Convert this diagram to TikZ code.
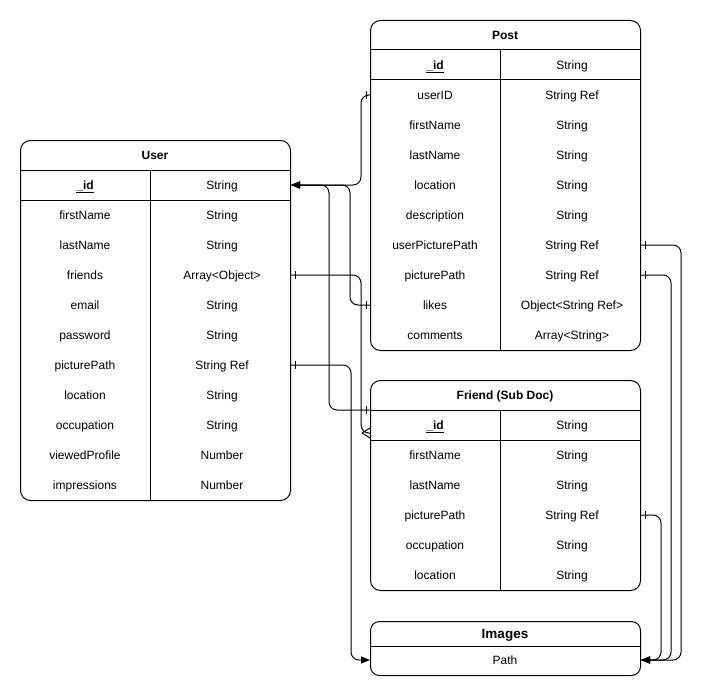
\documentclass[tikz,border=0pt]{standalone}
\usepackage{fontspec}
\setmainfont{Liberation Sans}
\usetikzlibrary{arrows.meta,calc}
\begin{document}
\begin{tikzpicture}[x=1bp,y=-1bp,
  tbl/.style={draw, line width=1bp, rounded corners=10bp, anchor=north west, minimum width=270bp, inner sep=0pt},
  cell/.style={font=\fontsize{12bp}{14bp}\selectfont, inner sep=0pt, text height=9.6bp, text depth=1.4bp},
  ttl/.style={font=\fontsize{12bp}{14bp}\selectfont\bfseries, minimum height=30bp, inner sep=0pt, text height=9.6bp, text depth=1.4bp},
  divline/.style={line width=1bp},
  conn/.style={line width=1bp, rounded corners=8bp},
  tipend/.style={-{Triangle[length=9bp,width=7bp]}},
  onebar/.style={line width=1bp}
]
\useasboundingbox (0,0) rectangle (710,700);

% ---------- User ----------
\node[tbl, minimum height=360bp] (user) at (20,140) {};
\node[ttl] (utitle) at (155,155) {User};
\coordinate (uhead) at (155,170);
\draw[divline] (user.west |- uhead) -- (user.east |- uhead);
\draw[divline] (20,200) -- (290,200);
\draw[divline] (150,170) -- (150,500);
\node[cell] (u1) at (85,185) {\underline{\textbf{\_id}}};
\node[cell] (ut1) at (222,185) {String};
\foreach \a/\b [count=\i from 2] in {firstName/String, lastName/String, friends/Array<Object>, email/String, password/String, picturePath/String Ref, location/String, occupation/String, viewedProfile/Number, impressions/Number} {
  \node[cell] (u\i) at (85,{185+30*(\i-1)}) {\a};
  \node[cell] (ut\i) at (222,{185+30*(\i-1)}) {\b};
}

% ---------- Post ----------
\node[tbl, minimum height=330bp] (post) at (370,20) {};
\node[ttl] (ptitle) at (505,35) {Post};
\coordinate (phead) at (505,50);
\draw[divline] (post.west |- phead) -- (post.east |- phead);
\draw[divline] (370,80) -- (640,80);
\draw[divline] (500,50) -- (500,350);
\node[cell] (p1) at (435,65) {\underline{\textbf{\_id}}};
\node[cell] (pt1) at (572,65) {String};
\foreach \a/\b [count=\i from 2] in {userID/String Ref, firstName/String, lastName/String, location/String, description/String, userPicturePath/String Ref, picturePath/String Ref, likes/Object<String Ref>, comments/Array<String>} {
  \node[cell] (p\i) at (435,{65+30*(\i-1)}) {\a};
  \node[cell] (pt\i) at (572,{65+30*(\i-1)}) {\b};
}

% ---------- Friend ----------
\node[tbl, minimum height=210bp] (friend) at (370,380) {};
\node[ttl] (ftitle) at (505,395) {Friend (Sub Doc)};
\coordinate (fhead) at (505,410);
\draw[divline] (friend.west |- fhead) -- (friend.east |- fhead);
\draw[divline] (370,440) -- (640,440);
\draw[divline] (500,410) -- (500,590);
\node[cell] (f1) at (435,425) {\underline{\textbf{\_id}}};
\node[cell] (ft1) at (572,425) {String};
\foreach \a/\b [count=\i from 2] in {firstName/String, lastName/String, picturePath/String Ref, occupation/String, location/String} {
  \node[cell] (f\i) at (435,{425+30*(\i-1)}) {\a};
  \node[cell] (ft\i) at (572,{425+30*(\i-1)}) {\b};
}

% ---------- Images ----------
\node[tbl, rounded corners=9bp, minimum height=54bp] (images) at (370,621) {};
\node[font=\fontsize{13.5bp}{16bp}\selectfont\bfseries, inner sep=0pt, text height=10.8bp, text depth=1.6bp] (ititle) at (505,634) {Images};
\draw[divline] (370,646) -- (640,646);
\node[cell] (ipath) at (505,660) {Path};

% ---------- Connectors ----------
% Post.userID -> User._id
\draw[conn, tipend] (post.west |- p2) -- ++(-9,0) |- (user.east |- u1);
\draw[onebar] ($(post.west |- p2)+(-4,-4)$) -- ++(0,8);
% Post.likes -> User._id
\draw[conn, tipend] (post.west |- p9) -- ++(-20,0) |- (user.east |- u1);
\draw[onebar] ($(post.west |- p9)+(-4,-4)$) -- ++(0,8);
% Friend -> User._id
\draw[conn, tipend] (friend.west |- fhead) -- ++(-41,0) |- (user.east |- u1);
\draw[onebar] ($(friend.west |- fhead)+(-4,-4)$) -- ++(0,8);
% User.friends -> Friend (many)
\coordinate (fmany) at ($(friend.west |- f1)+(0,8)$);
\draw[conn] (user.east |- u4) -- ++(70,0) |- (fmany);
\draw[onebar] ($(user.east |- u4)+(4,-4)$) -- ++(0,8);
\draw[onebar] ($(fmany)+(-8,0)$) -- ($(fmany)+(0,-5)$);
\draw[onebar] ($(fmany)+(-8,0)$) -- ($(fmany)+(0,5)$);
% User.picturePath -> Images
\draw[conn, tipend] (user.east |- u7) -- ++(60,0) |- (images.west |- ipath);
\draw[onebar] ($(user.east |- u7)+(4,-4)$) -- ++(0,8);
% Post.userPicturePath -> Images
\draw[conn, tipend] (post.east |- p7) -- ++(40,0) |- (images.east |- ipath);
\draw[onebar] ($(post.east |- p7)+(4,-4)$) -- ++(0,8);
% Post.picturePath -> Images
\draw[conn, tipend] (post.east |- p8) -- ++(30,0) |- (images.east |- ipath);
\draw[onebar] ($(post.east |- p8)+(4,-4)$) -- ++(0,8);
% Friend.picturePath -> Images
\draw[conn, tipend] (friend.east |- f4) -- ++(20,0) |- (images.east |- ipath);
\draw[onebar] ($(friend.east |- f4)+(4,-4)$) -- ++(0,8);
\end{tikzpicture}
\end{document}
